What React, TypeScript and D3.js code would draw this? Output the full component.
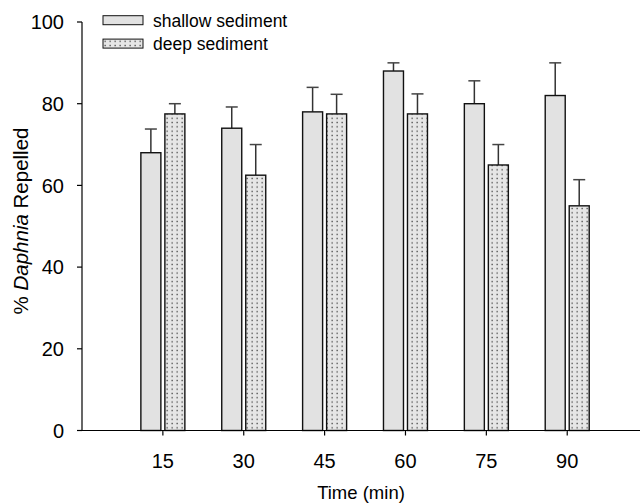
import React from "react";
import * as d3 from "d3";

// Sampling times (min)
const times = [15, 30, 45, 60, 75, 90];
// Mean % repelled and upper error (mean + SE)
const shallowMean = [68, 74, 78, 88, 80, 82];
const shallowUpper = [73.8, 79.2, 84, 90, 85.6, 90];
const deepMean = [77.5, 62.5, 77.5, 77.5, 65, 55];
const deepUpper = [80, 70, 82.3, 82.4, 70, 61.4];
const yTicks = [0, 20, 40, 60, 80, 100];
const legendLabels = ["shallow sediment", "deep sediment"];

const W = 640;
const H = 503;
const FONT = "Liberation Sans, Arial, Helvetica, sans-serif";

export default function App() {
  const x = d3.scaleLinear().domain([0, 103.5]).range([82, 640]);
  const y = d3.scaleLinear().domain([0, 100]).range([430.5, 22]);
  const barW = 20;
  const gap = 2;
  const capHalf = 6;

  const series = [
    { mean: shallowMean, upper: shallowUpper, offset: -gap - barW, fill: "#e2e2e2" },
    { mean: deepMean, upper: deepUpper, offset: gap, fill: "url(#dots)" },
  ];

  return (
    <svg
      width={W}
      height={H}
      style={{ position: "absolute", left: 0, top: 0, background: "#fff" }}
      fontFamily={FONT}
    >
      <defs>
        <pattern id="dots" width={5} height={4.3} patternUnits="userSpaceOnUse">
          <rect width={5} height={4.3} fill="#e6e6e6" />
          <rect x={1.5} y={1.5} width={1.3} height={1.3} fill="#444" />
        </pattern>
      </defs>

      {/* bars and error bars */}
      {series.map((s, si) =>
        times.map((t, i) => {
          const x0 = x(t) + s.offset;
          const cx = x0 + barW / 2;
          return (
            <g key={`${si}-${i}`}>
              <line x1={cx} x2={cx} y1={y(s.mean[i])} y2={y(s.upper[i])} stroke="#333" strokeWidth={1.5} />
              <line x1={cx - capHalf} x2={cx + capHalf} y1={y(s.upper[i])} y2={y(s.upper[i])} stroke="#444" strokeWidth={1.5} />
              <rect
                x={x0}
                y={y(s.mean[i])}
                width={barW}
                height={y(0) - y(s.mean[i])}
                fill={s.fill}
                stroke="#111"
                strokeWidth={1.4}
              />
            </g>
          );
        })
      )}

      {/* y axis */}
      <line x1={82} x2={82} y1={y(100)} y2={y(0)} stroke="#000" strokeWidth={1.2} />
      {yTicks.map((v) => (
        <g key={v}>
          <line x1={77} x2={82} y1={y(v)} y2={y(v)} stroke="#000" strokeWidth={1.2} />
          <text x={64} y={y(v)} dy="0.36em" textAnchor="end" fontSize={20} fill="#000">
            {v}
          </text>
        </g>
      ))}

      {/* x axis */}
      <line x1={82} x2={640} y1={y(0)} y2={y(0)} stroke="#000" strokeWidth={1.2} />
      {times.map((t) => (
        <g key={t}>
          <line x1={x(t)} x2={x(t)} y1={y(0)} y2={y(0) + 5} stroke="#000" strokeWidth={1.2} />
          <text x={x(t)} y={468} textAnchor="middle" fontSize={20} fill="#000">
            {t}
          </text>
        </g>
      ))}

      {/* axis titles */}
      <text x={361} y={499} textAnchor="middle" fontSize={18.5} fill="#000">
        Time (min)
      </text>
      <text
        transform={`translate(28,221) rotate(-90)`}
        textAnchor="middle"
        fontSize={20.5}
        fill="#000"
      >
        % <tspan fontStyle="italic">Daphnia</tspan> Repelled
      </text>

      {/* legend */}
      {legendLabels.map((lab, i) => (
        <g key={lab} transform={`translate(103,${15.7 + i * 23.4})`}>
          <rect width={40} height={9} fill={i === 0 ? "#e2e2e2" : "url(#dots)"} stroke="#111" strokeWidth={1} />
          <text x={50} y={4.5} dy="0.36em" fontSize={17.5} fill="#000">
            {lab}
          </text>
        </g>
      ))}
    </svg>
  );
}
